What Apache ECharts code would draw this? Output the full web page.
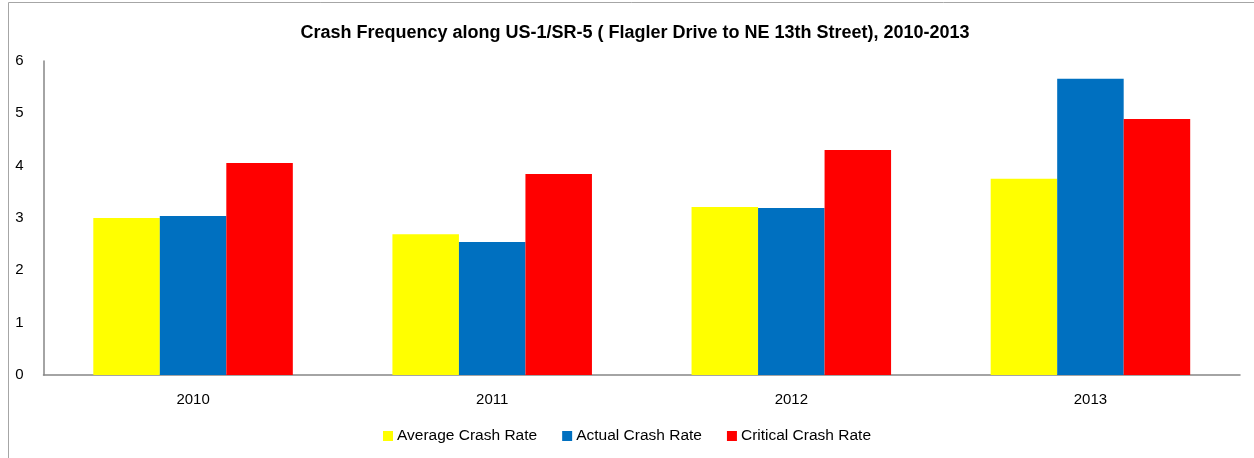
<!DOCTYPE html>
<html><head><meta charset="utf-8">
<script src="https://cdn.jsdelivr.net/npm/echarts@6/dist/echarts.min.js"></script>
<style>html,body{margin:0;padding:0;background:#fff}#c{width:1254px;height:458px}</style>
</head><body><div id="c"></div>
<script>
const categories = ['2010','2011','2012','2013'];
const averageCrashRate = [3.0, 2.69, 3.21, 3.75];
const actualCrashRate = [3.04, 2.54, 3.19, 5.66];
const criticalCrashRate = [4.05, 3.84, 4.30, 4.89];
const yTicks = [0,1,2,3,4,5,6];
const FONT = '"Liberation Sans",Arial,sans-serif';
const chart = echarts.init(document.getElementById('c'), null, {renderer:'canvas'});
chart.setOption({
  animation:false,
  backgroundColor:'#fff',
  graphic:[{type:'rect',shape:{x:8.5,y:2.5,width:1260,height:470},style:{fill:'none',stroke:'#a6a6a6',lineWidth:1},silent:true}],
  title:{text:'Crash Frequency along US-1/SR-5 ( Flagler Drive to NE 13th Street), 2010-2013',left:630,textAlign:'center',top:19,
    textStyle:{fontFamily:FONT,fontSize:18,fontWeight:'bold',color:'#000'}},
  legend:{bottom:9,left:'center',itemWidth:10,itemHeight:10,itemGap:25,icon:'rect',
    textStyle:{fontFamily:FONT,fontSize:15.5,color:'#000',padding:[0,0,0,-1]},
    data:['Average Crash Rate','Actual Crash Rate','Critical Crash Rate']},
  grid:{left:43.5,right:14,top:61,bottom:83,containLabel:false},
  xAxis:{type:'category',data:categories,
    axisLine:{lineStyle:{color:'#868686',width:1.5}},axisTick:{show:false},
    axisLabel:{fontFamily:FONT,fontSize:15,color:'#000',margin:17}},
  yAxis:{type:'value',min:0,max:6,interval:1,
    axisLine:{show:true,lineStyle:{color:'#868686',width:1.5}},axisTick:{show:false},splitLine:{show:false},
    axisLabel:{fontFamily:FONT,fontSize:15,color:'#000',margin:20,formatter:v=>yTicks.includes(v)?String(v):''}},
  series:[
    {name:'Average Crash Rate',type:'bar',data:averageCrashRate,itemStyle:{color:'#ffff00'},barGap:'0%',barCategoryGap:'33.3%'},
    {name:'Actual Crash Rate',type:'bar',data:actualCrashRate,itemStyle:{color:'#0070c0'},barGap:'0%',barCategoryGap:'33.3%'},
    {name:'Critical Crash Rate',type:'bar',data:criticalCrashRate,itemStyle:{color:'#ff0000'},barGap:'0%',barCategoryGap:'33.3%'}
  ]
});
</script></body></html>
